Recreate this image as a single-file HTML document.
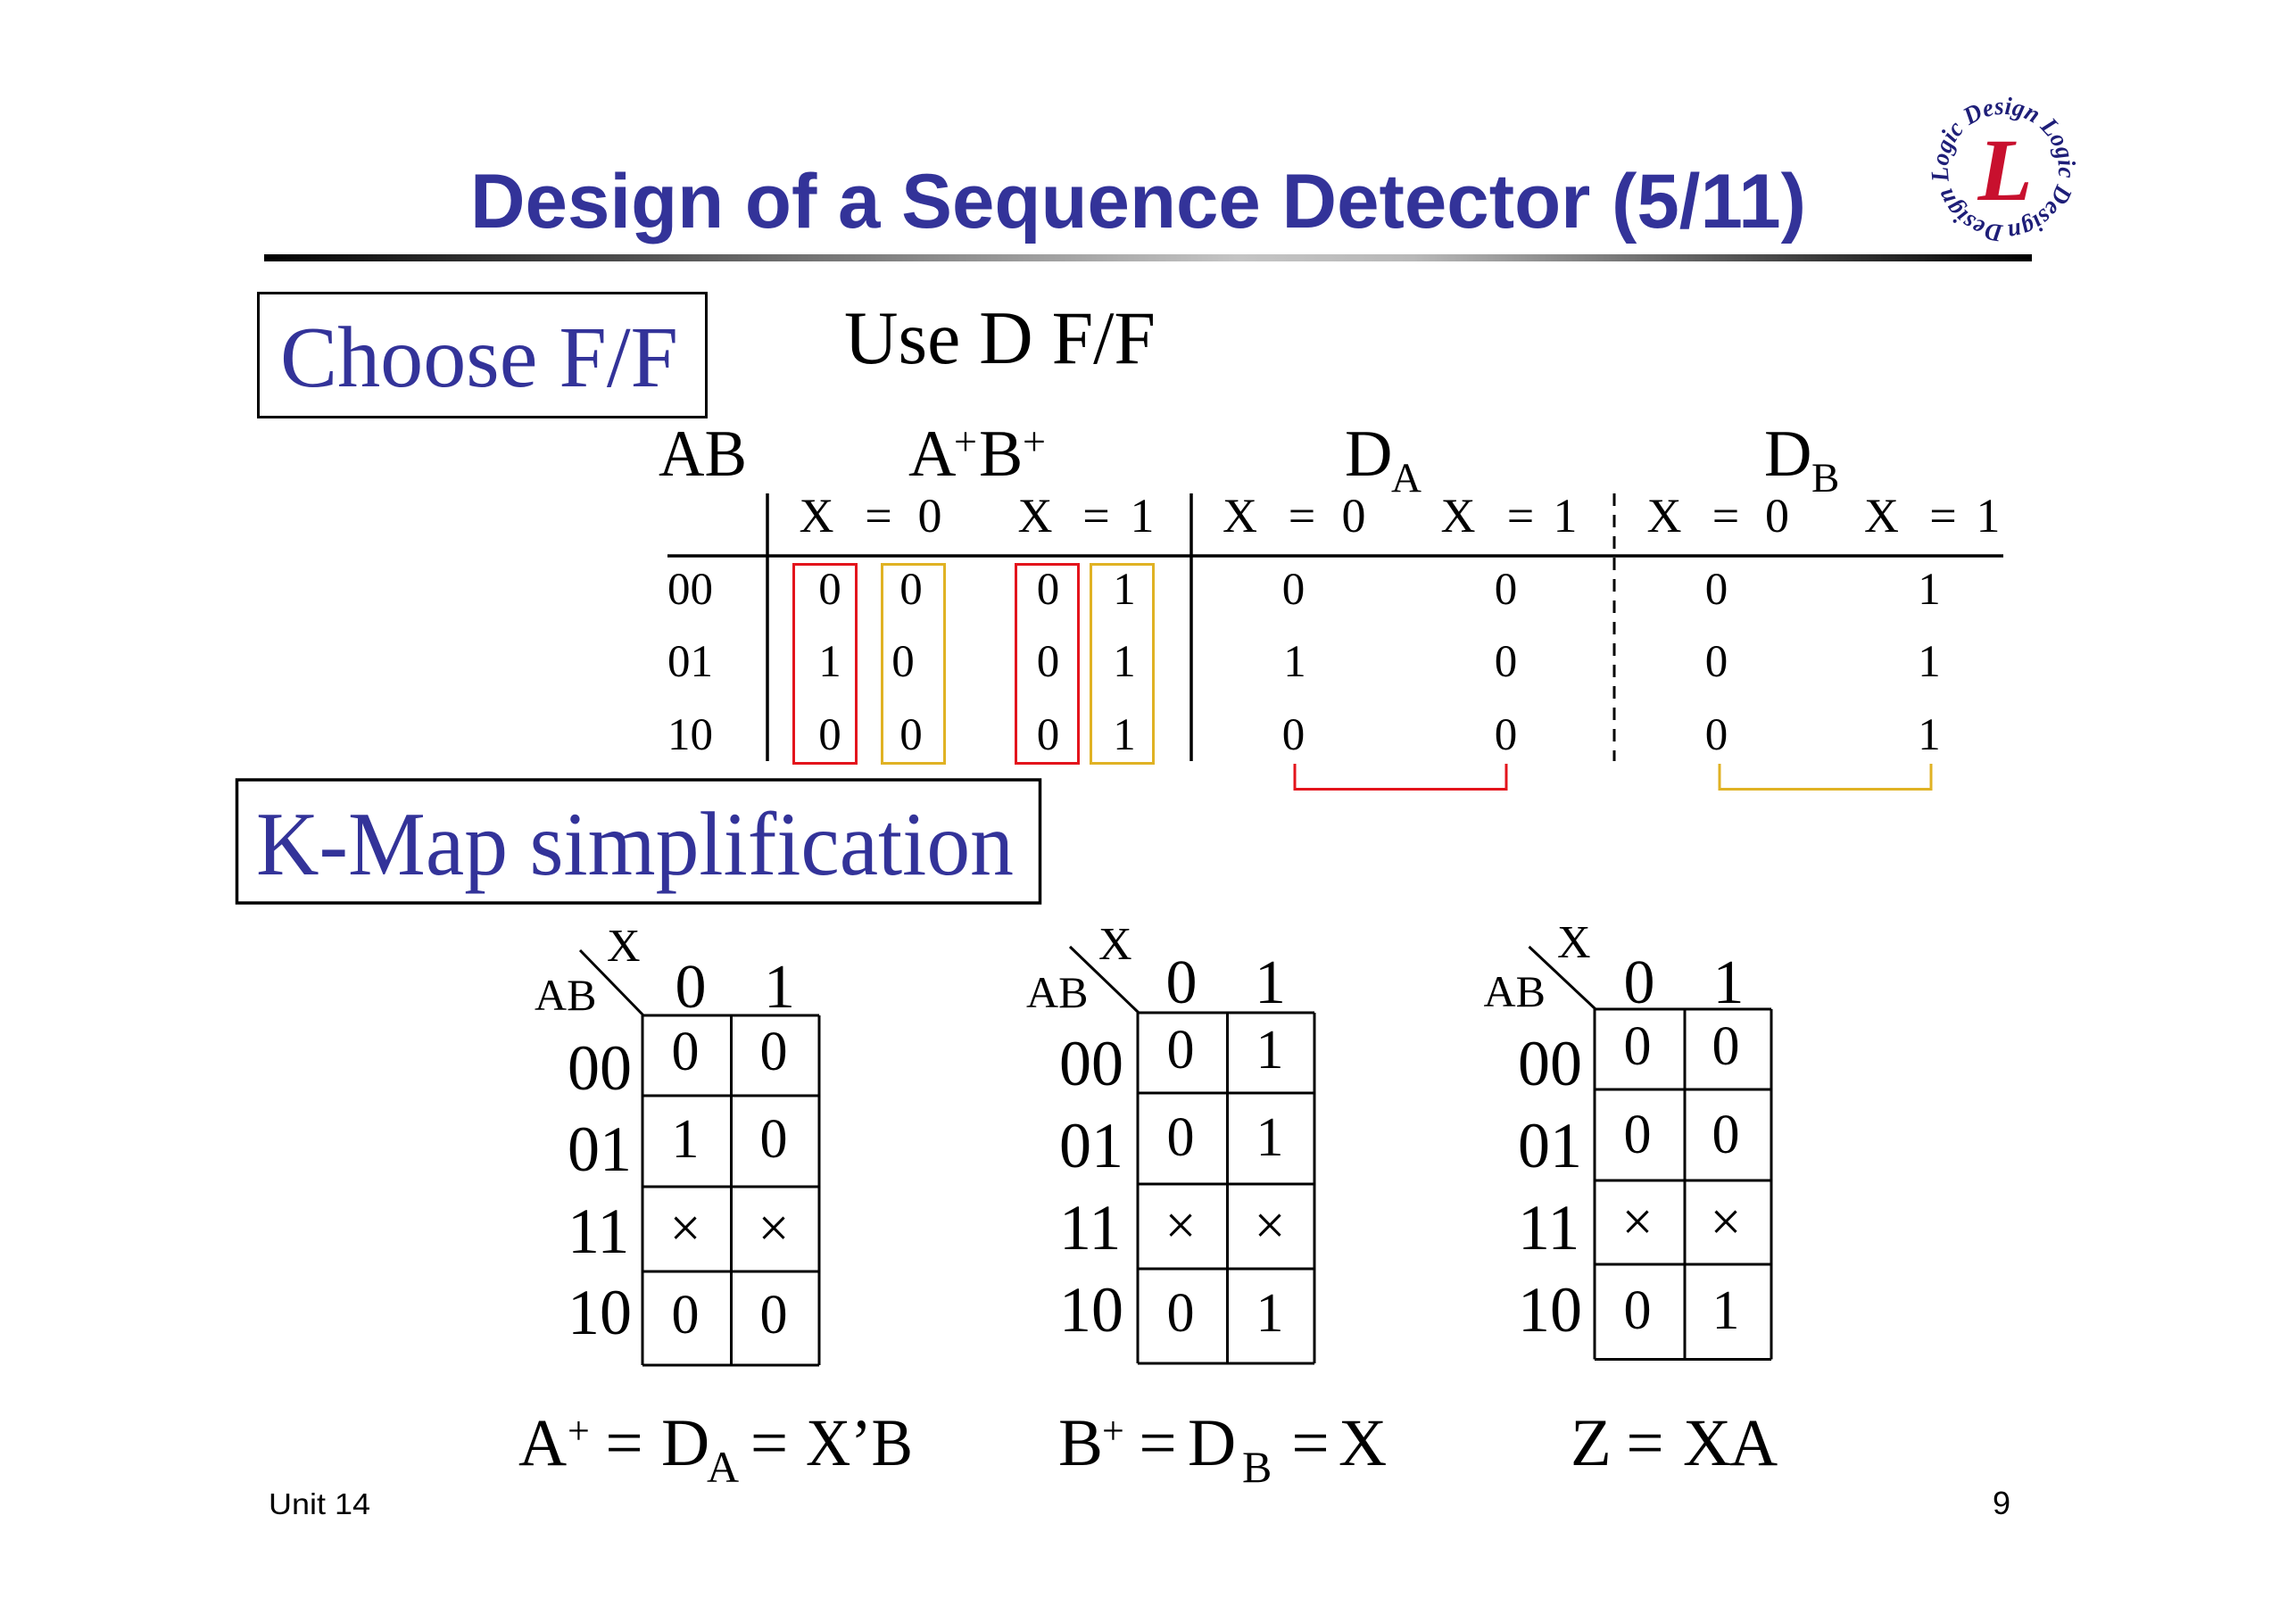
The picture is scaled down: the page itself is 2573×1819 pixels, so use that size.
<!DOCTYPE html>
<html>
<head>
<meta charset="utf-8">
<style>
  html, body { margin:0; padding:0; background:#ffffff; }
  body { width:2573px; height:1819px; overflow:hidden; }
  svg { display:block; }
  .serif { font-family: "Liberation Serif", "Times New Roman", serif; }
  .sans { font-family: "Liberation Sans", Arial, sans-serif; }
</style>
</head>
<body>
<svg width="2573" height="1819" viewBox="0 0 2573 1819" xmlns="http://www.w3.org/2000/svg">
  <defs>
    <linearGradient id="bar" x1="0" y1="0" x2="1" y2="0">
      <stop offset="0" stop-color="#000000"/>
      <stop offset="0.06" stop-color="#1a1a1a"/>
      <stop offset="0.3" stop-color="#707070"/>
      <stop offset="0.55" stop-color="#c4c4c4"/>
      <stop offset="0.65" stop-color="#b8b8b8"/>
      <stop offset="0.88" stop-color="#3a3a3a"/>
      <stop offset="1" stop-color="#000000"/>
    </linearGradient>
    <path id="ring" d="M 2245 252 A 62 62 0 1 1 2245.01 252"/>
  </defs>

  <!-- Title -->
  <text class="sans" x="527" y="255" font-size="86" font-weight="bold" fill="#333399" textLength="1497" lengthAdjust="spacingAndGlyphs">Design of a Sequence Detector (5/11)</text>

  <!-- Gradient rule -->
  <rect x="296" y="285" width="1981" height="8" fill="url(#bar)"/>

  <!-- Logo -->
  <g>
    <text class="serif" font-size="28" font-style="italic" font-weight="bold" fill="#1e1e78" textLength="385" lengthAdjust="spacingAndGlyphs">
      <textPath href="#ring" startOffset="0">Design Logic Design Logic Design</textPath>
    </text>
    <text class="serif" x="2247" y="224" font-size="100" font-style="italic" font-weight="bold" fill="#c8102e" text-anchor="middle">L</text>
  </g>

  <!-- Choose F/F box -->
  <rect x="289.5" y="328.5" width="502" height="139" fill="none" stroke="#000" stroke-width="3"/>
  <text class="serif" x="314" y="433" font-size="98" fill="#333399" textLength="446" lengthAdjust="spacingAndGlyphs">Choose F/F</text>

  <text class="serif" x="946" y="407" font-size="85" fill="#000" textLength="349" lengthAdjust="spacingAndGlyphs">Use D F/F</text>

  <!-- Table headers -->
  <g class="serif" fill="#000">
    <text x="738" y="533" font-size="74" textLength="99" lengthAdjust="spacingAndGlyphs">AB</text>
    <text x="1018" y="533" font-size="74">A</text>
    <text x="1069" y="510" font-size="46">+</text>
    <text x="1097" y="533" font-size="74">B</text>
    <text x="1146" y="510" font-size="46">+</text>
    <text x="1507" y="533" font-size="74">D</text>
    <text x="1559" y="551" font-size="47">A</text>
    <text x="1977" y="533" font-size="74">D</text>
    <text x="2030" y="551" font-size="47">B</text>
  </g>

  <!-- X = 0 / X = 1 headers -->
  <g class="serif" fill="#000" font-size="54" text-anchor="middle">
    <text x="915" y="596">X</text><text x="984.5" y="596">=</text><text x="1042" y="596">0</text>
    <text x="1160" y="596">X</text><text x="1228.5" y="596">=</text><text x="1280" y="596">1</text>
    <text x="1389.5" y="596">X</text><text x="1459" y="596">=</text><text x="1517" y="596">0</text>
    <text x="1634" y="596">X</text><text x="1704" y="596">=</text><text x="1754" y="596">1</text>
    <text x="1865" y="596">X</text><text x="1934" y="596">=</text><text x="1991.5" y="596">0</text>
    <text x="2108.5" y="596">X</text><text x="2177.5" y="596">=</text><text x="2228" y="596">1</text>
  </g>

  <!-- Table lines -->
  <line x1="748" y1="623" x2="2245" y2="623" stroke="#000" stroke-width="3.5"/>
  <line x1="860" y1="553" x2="860" y2="853" stroke="#000" stroke-width="3.5"/>
  <line x1="1335" y1="553" x2="1335" y2="853" stroke="#000" stroke-width="3.5"/>
  <line x1="1809" y1="553" x2="1809" y2="853" stroke="#000" stroke-width="3" stroke-dasharray="14 10"/>

  <!-- Row labels -->
  <g class="serif" fill="#000" font-size="51">
    <text x="748" y="677">00</text>
    <text x="748" y="758">01</text>
    <text x="748" y="840">10</text>
  </g>

  <!-- Table cell values -->
  <g class="serif" fill="#000" font-size="51" text-anchor="middle">
    <text x="930" y="677">0</text><text x="930" y="758">1</text><text x="930" y="840">0</text>
    <text x="1021" y="677">0</text><text x="1012" y="758">0</text><text x="1021" y="840">0</text>
    <text x="1174.5" y="677">0</text><text x="1174.5" y="758">0</text><text x="1174.5" y="840">0</text>
    <text x="1260" y="677">1</text><text x="1260" y="758">1</text><text x="1260" y="840">1</text>
    <text x="1449.5" y="677">0</text><text x="1451" y="758">1</text><text x="1449.5" y="840">0</text>
    <text x="1687.5" y="677">0</text><text x="1687.5" y="758">0</text><text x="1687.5" y="840">0</text>
    <text x="1923.5" y="677">0</text><text x="1923.5" y="758">0</text><text x="1923.5" y="840">0</text>
    <text x="2162" y="677">1</text><text x="2162" y="758">1</text><text x="2162" y="840">1</text>
  </g>

  <!-- Colored boxes -->
  <rect x="889.5" y="632.5" width="70" height="223" fill="none" stroke="#e3141c" stroke-width="3"/>
  <rect x="988.5" y="632.5" width="70" height="223" fill="none" stroke="#e0b224" stroke-width="3"/>
  <rect x="1138.5" y="632.5" width="70" height="223" fill="none" stroke="#e3141c" stroke-width="3"/>
  <rect x="1222.5" y="632.5" width="70" height="223" fill="none" stroke="#e0b224" stroke-width="3"/>

  <!-- Brackets -->
  <path d="M1451 856 V884.5 H1688 V856" fill="none" stroke="#e3141c" stroke-width="3"/>
  <path d="M1927 856 V884.5 H2164 V856" fill="none" stroke="#e0b224" stroke-width="3"/>

  <!-- K-Map simplification box -->
  <rect x="265.5" y="874" width="900" height="138" fill="none" stroke="#000" stroke-width="3.5"/>
  <text class="serif" x="287" y="980" font-size="102" fill="#333399" textLength="849" lengthAdjust="spacingAndGlyphs">K-Map simplification</text>

  <!-- KMap 1 -->
  <g stroke="#000" stroke-width="3" fill="none">
    <line x1="720" y1="1138" x2="720" y2="1530"/>
    <line x1="819.5" y1="1138" x2="819.5" y2="1530"/>
    <line x1="918" y1="1138" x2="918" y2="1530"/>
    <line x1="720" y1="1138" x2="918" y2="1138"/>
    <line x1="720" y1="1228" x2="918" y2="1228"/>
    <line x1="720" y1="1330" x2="918" y2="1330"/>
    <line x1="720" y1="1425" x2="918" y2="1425"/>
    <line x1="720" y1="1530" x2="918" y2="1530"/>
    <line x1="650" y1="1065" x2="721" y2="1138"/>
  </g>
  <g class="serif" fill="#000">
    <text x="680" y="1077" font-size="52">X</text>
    <text x="599" y="1132" font-size="50">AB</text>
    <text x="774" y="1129" font-size="70" text-anchor="middle">0</text>
    <text x="873.5" y="1129" font-size="70" text-anchor="middle">1</text>
    <text x="636" y="1221" font-size="72">00</text>
    <text x="636" y="1312" font-size="72">01</text>
    <text x="636" y="1404" font-size="72">11</text>
    <text x="636" y="1495" font-size="72">10</text>
    <g font-size="62" text-anchor="middle">
      <text x="768" y="1199">0</text><text x="867" y="1199">0</text>
      <text x="768" y="1297">1</text><text x="867" y="1297">0</text>
      <text x="768" y="1397">×</text><text x="867" y="1397">×</text>
      <text x="768" y="1494">0</text><text x="867" y="1494">0</text>
    </g>
  </g>

  <!-- KMap 2 -->
  <g stroke="#000" stroke-width="3" fill="none">
    <line x1="1275" y1="1135" x2="1275" y2="1528"/>
    <line x1="1375.5" y1="1135" x2="1375.5" y2="1528"/>
    <line x1="1473" y1="1135" x2="1473" y2="1528"/>
    <line x1="1275" y1="1135" x2="1473" y2="1135"/>
    <line x1="1275" y1="1225" x2="1473" y2="1225"/>
    <line x1="1275" y1="1327" x2="1473" y2="1327"/>
    <line x1="1275" y1="1422" x2="1473" y2="1422"/>
    <line x1="1275" y1="1528" x2="1473" y2="1528"/>
    <line x1="1199" y1="1061" x2="1276" y2="1135"/>
  </g>
  <g class="serif" fill="#000">
    <text x="1231" y="1075" font-size="52">X</text>
    <text x="1150" y="1129" font-size="50">AB</text>
    <text x="1324" y="1124" font-size="70" text-anchor="middle">0</text>
    <text x="1423.5" y="1124" font-size="70" text-anchor="middle">1</text>
    <text x="1187" y="1216" font-size="72">00</text>
    <text x="1187" y="1308" font-size="72">01</text>
    <text x="1187" y="1400" font-size="72">11</text>
    <text x="1187" y="1492" font-size="72">10</text>
    <g font-size="62" text-anchor="middle">
      <text x="1323" y="1197">0</text><text x="1423" y="1197">1</text>
      <text x="1323" y="1295">0</text><text x="1423" y="1295">1</text>
      <text x="1323" y="1394">×</text><text x="1423" y="1394">×</text>
      <text x="1323" y="1492">0</text><text x="1423" y="1492">1</text>
    </g>
  </g>

  <!-- KMap 3 -->
  <g stroke="#000" stroke-width="3" fill="none">
    <line x1="1787" y1="1131" x2="1787" y2="1523.5"/>
    <line x1="1888" y1="1131" x2="1888" y2="1523.5"/>
    <line x1="1985" y1="1131" x2="1985" y2="1523.5"/>
    <line x1="1787" y1="1131" x2="1985" y2="1131"/>
    <line x1="1787" y1="1221" x2="1985" y2="1221"/>
    <line x1="1787" y1="1323" x2="1985" y2="1323"/>
    <line x1="1787" y1="1417" x2="1985" y2="1417"/>
    <line x1="1787" y1="1523.5" x2="1985" y2="1523.5"/>
    <line x1="1713.5" y1="1061" x2="1788" y2="1131"/>
  </g>
  <g class="serif" fill="#000">
    <text x="1745" y="1073" font-size="52">X</text>
    <text x="1662.5" y="1128" font-size="50">AB</text>
    <text x="1837" y="1124" font-size="70" text-anchor="middle">0</text>
    <text x="1937" y="1124" font-size="70" text-anchor="middle">1</text>
    <text x="1701" y="1216" font-size="72">00</text>
    <text x="1701" y="1308" font-size="72">01</text>
    <text x="1701" y="1400" font-size="72">11</text>
    <text x="1701" y="1492" font-size="72">10</text>
    <g font-size="62" text-anchor="middle">
      <text x="1835" y="1193">0</text><text x="1934" y="1193">0</text>
      <text x="1835" y="1292">0</text><text x="1934" y="1292">0</text>
      <text x="1835" y="1390">×</text><text x="1934" y="1390">×</text>
      <text x="1835" y="1489">0</text><text x="1934" y="1489">1</text>
    </g>
  </g>

  <!-- Equations -->
  <g class="serif" fill="#000" font-size="75">
    <!-- A+ = DA = X'B -->
    <text x="581" y="1642">A</text>
    <text x="636" y="1618" font-size="44">+</text>
    <text x="699.5" y="1642" text-anchor="middle">=</text>
    <text x="741" y="1642">D</text>
    <text x="792" y="1661" font-size="50">A</text>
    <text x="862" y="1642" text-anchor="middle">=</text>
    <text x="903" y="1642" textLength="120" lengthAdjust="spacingAndGlyphs">X’B</text>

    <!-- B+ = DB = X -->
    <text x="1186" y="1642">B</text>
    <text x="1235" y="1618" font-size="44">+</text>
    <text x="1297.5" y="1642" text-anchor="middle">=</text>
    <text x="1331" y="1642">D</text>
    <text x="1392" y="1661" font-size="50">B</text>
    <text x="1468.5" y="1642" text-anchor="middle">=</text>
    <text x="1500" y="1642">X</text>

    <!-- Z = XA -->
    <text x="1760" y="1642">Z</text>
    <text x="1843.5" y="1642" text-anchor="middle">=</text>
    <text x="1886" y="1642">X</text>
    <text x="1938" y="1642">A</text>
  </g>

  <!-- Footer -->
  <text class="sans" x="301" y="1697" font-size="33" fill="#000" textLength="114" lengthAdjust="spacingAndGlyphs">Unit 14</text>
  <text class="sans" x="2233" y="1697" font-size="36" fill="#000">9</text>
</svg>
</body>
</html>
